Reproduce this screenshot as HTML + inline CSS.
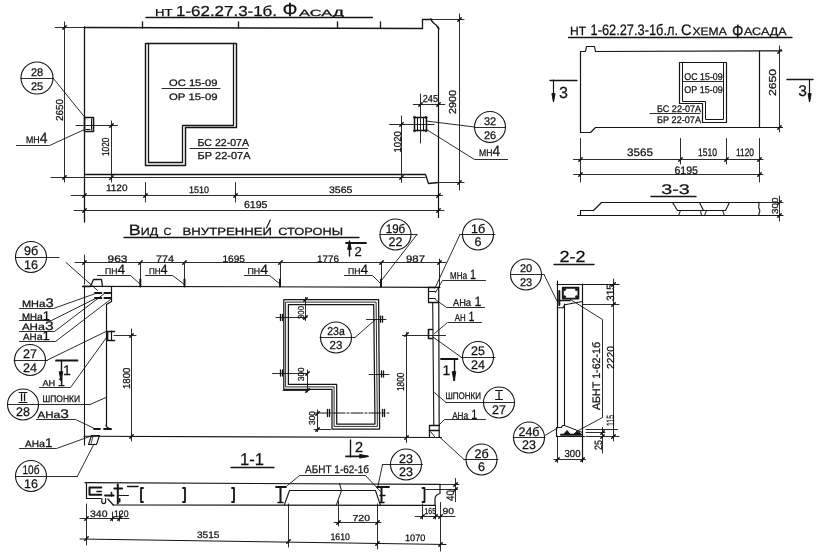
<!DOCTYPE html>
<html lang="ru"><head><meta charset="utf-8"><title>НТ 1-62.27.3-1б</title>
<style>
html,body{margin:0;padding:0;background:#fff}
svg{display:block;filter:grayscale(1)}
svg text{font-family:"Liberation Sans",sans-serif;fill:#111;stroke:#111;stroke-width:.25px;text-rendering:geometricPrecision}
svg line,svg polyline,svg polygon,svg circle,svg path{stroke:#151515;stroke-linecap:round;stroke-linejoin:round}
svg polyline,svg polygon,svg circle{fill:none}
</style></head><body>
<svg width="821" height="555" viewBox="0 0 821 555">
<rect width="821" height="555" fill="#fff" stroke="none"/>
<text x="155" y="15.5" font-size="10.14" textLength="17.5" lengthAdjust="spacingAndGlyphs">НТ</text>
<text x="176" y="15.5" font-size="14.49" textLength="101.0" lengthAdjust="spacingAndGlyphs">1-62.27.3-1б.</text>
<text x="282.5" y="16.3" font-size="18.84" textLength="15.0" lengthAdjust="spacingAndGlyphs">Ф</text>
<text x="299" y="15.5" font-size="8.99" textLength="45.0" lengthAdjust="spacingAndGlyphs">АСАД</text>
<line x1="146" y1="17.5" x2="372.5" y2="17.5" stroke-width="1.3"/>
<line x1="55" y1="27.5" x2="84.5" y2="27.5" stroke-width="0.9"/>
<polyline points="84.5,27.5 422.5,28.5 422.5,19.5 431.5,19.5" stroke-width="1.3"/>
<path d="M431 19 C432 24 436 24 436.5 25.5 L439 29" stroke-width="1.3" fill="none"/>
<line x1="431" y1="19.5" x2="464" y2="19.5" stroke-width="0.9"/>
<line x1="438.5" y1="27" x2="438.5" y2="217.5" stroke-width="1.2"/>
<line x1="84.5" y1="27" x2="84.5" y2="222" stroke-width="1.3"/>
<line x1="142.5" y1="22" x2="142.5" y2="28" stroke-width="1.3"/>
<line x1="238.5" y1="22" x2="238.5" y2="28" stroke-width="1.3"/>
<line x1="337.5" y1="22" x2="337.5" y2="28" stroke-width="1.3"/>
<line x1="380.5" y1="22" x2="380.5" y2="28" stroke-width="1.3"/>
<polyline points="84.5,174.5 425.5,174.5 428.5,183.5 438.5,182.5" stroke-width="1.3"/>
<line x1="438" y1="182.5" x2="464" y2="182.5" stroke-width="0.9"/>
<line x1="51" y1="177.5" x2="425" y2="177.5" stroke-width="0.9"/>
<line x1="64.5" y1="22" x2="64.5" y2="182" stroke-width="0.9"/>
<line x1="62.8" y1="29.2" x2="66.2" y2="25.8" stroke-width="1.5"/>
<line x1="62.8" y1="179.2" x2="66.2" y2="175.8" stroke-width="1.5"/>
<text transform="translate(62.5,121) rotate(-90)" font-size="10.14" textLength="22.0" lengthAdjust="spacingAndGlyphs">2650</text>
<polygon points="145.5,43.5 236.5,43.5 236.5,127.5 185.5,127.5 185.5,165.5 145.5,165.5" stroke-width="1.45"/>
<polyline points="148.5,43.5 148.5,162.5 182.5,162.5 182.5,125.5 233.5,125.5 233.5,43.5" stroke-width="1.3"/>
<text x="169" y="86" font-size="9.42" textLength="48.5" lengthAdjust="spacingAndGlyphs">ОС 15-09</text>
<line x1="162" y1="88.5" x2="220" y2="88.5" stroke-width="0.9"/>
<text x="169" y="99.5" font-size="9.42" textLength="48.5" lengthAdjust="spacingAndGlyphs">ОР 15-09</text>
<text x="197.5" y="146" font-size="10.14" textLength="51.5" lengthAdjust="spacingAndGlyphs">БС 22-07А</text>
<line x1="190" y1="148.5" x2="247.5" y2="148.5" stroke-width="0.9"/>
<text x="197.5" y="158.5" font-size="10.14" textLength="53.0" lengthAdjust="spacingAndGlyphs">БР 22-07А</text>
<polygon points="84.5,117.5 93.5,117.5 93.5,131.5 84.5,131.5" stroke-width="1.6"/>
<line x1="91.5" y1="119" x2="91.5" y2="130" stroke-width="1"/>
<line x1="86" y1="129.5" x2="90" y2="129.5" stroke-width="1"/>
<line x1="76" y1="125.5" x2="117.5" y2="125.5" stroke-width="0.9"/>
<line x1="111.5" y1="121" x2="111.5" y2="182" stroke-width="0.9"/>
<line x1="109.8" y1="127.2" x2="113.2" y2="123.8" stroke-width="1.5"/>
<line x1="109.8" y1="179.2" x2="113.2" y2="175.8" stroke-width="1.5"/>
<text transform="translate(109.0,156) rotate(-90)" font-size="10.14" textLength="18.5" lengthAdjust="spacingAndGlyphs">1020</text>
<circle cx="37" cy="78" r="16" stroke-width="1.1"/>
<line x1="21" y1="78.5" x2="53" y2="78.5" stroke-width="0.9"/>
<text x="37" y="75.8" font-size="11" text-anchor="middle">28</text>
<text x="37" y="89.5" font-size="11" text-anchor="middle">25</text>
<line x1="53" y1="78" x2="85" y2="117.5" stroke-width="0.9"/>
<text x="26" y="142.5" font-size="9.5" textLength="21.5" lengthAdjust="spacingAndGlyphs">МН<tspan font-size="15">4</tspan></text>
<polyline points="16.5,145.5 49.5,145.5 84.5,129.5" stroke-width="0.9"/>
<line x1="71" y1="195.5" x2="442.5" y2="195.5" stroke-width="0.9"/>
<line x1="82.8" y1="197.2" x2="86.2" y2="193.8" stroke-width="1.5"/>
<line x1="143.8" y1="197.2" x2="147.2" y2="193.8" stroke-width="1.5"/>
<line x1="233.8" y1="197.2" x2="237.2" y2="193.8" stroke-width="1.5"/>
<line x1="436.8" y1="197.2" x2="440.2" y2="193.8" stroke-width="1.5"/>
<line x1="145.5" y1="182.5" x2="145.5" y2="202" stroke-width="0.9"/>
<line x1="235.5" y1="182.5" x2="235.5" y2="202" stroke-width="0.9"/>
<line x1="74" y1="210.5" x2="444" y2="210.5" stroke-width="0.9"/>
<line x1="82.8" y1="212.2" x2="86.2" y2="208.8" stroke-width="1.5"/>
<line x1="436.8" y1="212.2" x2="440.2" y2="208.8" stroke-width="1.5"/>
<text x="106" y="191" font-size="9.42" textLength="21.5" lengthAdjust="spacingAndGlyphs">1120</text>
<text x="189" y="192.5" font-size="9.42" textLength="20.0" lengthAdjust="spacingAndGlyphs">1510</text>
<text x="329" y="192.5" font-size="9.42" textLength="23.5" lengthAdjust="spacingAndGlyphs">3565</text>
<text x="244" y="208" font-size="10.14" textLength="23.5" lengthAdjust="spacingAndGlyphs">6195</text>
<polygon points="414.5,117.5 426.5,117.5 426.5,130.5 414.5,130.5" stroke-width="1.5"/>
<line x1="417.5" y1="117.3" x2="417.5" y2="130.8" stroke-width="1.1"/>
<line x1="423.5" y1="117.3" x2="423.5" y2="130.8" stroke-width="1.1"/>
<circle cx="414.5" cy="117.3" r="1.1" style="fill:#151515" stroke-width="0.5"/>
<circle cx="426" cy="117.3" r="1.1" style="fill:#151515" stroke-width="0.5"/>
<circle cx="414.5" cy="130.8" r="1.1" style="fill:#151515" stroke-width="0.5"/>
<circle cx="426" cy="130.8" r="1.1" style="fill:#151515" stroke-width="0.5"/>
<line x1="389.5" y1="124.5" x2="434" y2="124.5" stroke-width="0.9"/>
<line x1="401.5" y1="116" x2="401.5" y2="182.5" stroke-width="0.9"/>
<line x1="399.8" y1="126.2" x2="403.2" y2="122.8" stroke-width="1.5"/>
<line x1="399.8" y1="179.2" x2="403.2" y2="175.8" stroke-width="1.5"/>
<text transform="translate(401.0,152.5) rotate(-90)" font-size="10.14" textLength="21.5" lengthAdjust="spacingAndGlyphs">1020</text>
<line x1="420.5" y1="94" x2="420.5" y2="143" stroke-width="0.9"/>
<line x1="413.3" y1="104.5" x2="444.8" y2="104.5" stroke-width="0.9"/>
<line x1="418.8" y1="106.2" x2="422.2" y2="102.8" stroke-width="1.5"/>
<line x1="436.8" y1="106.2" x2="440.2" y2="102.8" stroke-width="1.5"/>
<text x="422.8" y="102" font-size="10.14" textLength="15.2" lengthAdjust="spacingAndGlyphs">245</text>
<line x1="459.5" y1="14" x2="459.5" y2="190" stroke-width="0.9"/>
<line x1="457.8" y1="21.2" x2="461.2" y2="17.8" stroke-width="1.5"/>
<line x1="457.8" y1="184.2" x2="461.2" y2="180.8" stroke-width="1.5"/>
<text transform="translate(456.0,114) rotate(-90)" font-size="10.14" textLength="24.0" lengthAdjust="spacingAndGlyphs">2900</text>
<circle cx="490" cy="127" r="15.5" stroke-width="1.1"/>
<line x1="474.5" y1="127.5" x2="505.5" y2="127.5" stroke-width="0.9"/>
<text x="490" y="124.8" font-size="11" text-anchor="middle">32</text>
<text x="490" y="138.5" font-size="11" text-anchor="middle">26</text>
<line x1="426" y1="121" x2="474.5" y2="127" stroke-width="0.9"/>
<text x="479" y="156" font-size="9.5" textLength="21" lengthAdjust="spacingAndGlyphs">МН<tspan font-size="15">4</tspan></text>
<polyline points="426.5,129.5 474.5,159.5 507.5,159.5" stroke-width="0.9"/>
<text x="570" y="35" font-size="11.88" textLength="16.0" lengthAdjust="spacingAndGlyphs">НТ</text>
<text x="590.5" y="35" font-size="15.22" textLength="87.5" lengthAdjust="spacingAndGlyphs">1-62.27.3-1б.л.</text>
<text x="681" y="35" font-size="15.22" textLength="10.5" lengthAdjust="spacingAndGlyphs">С</text>
<text x="692.5" y="35" font-size="10.87" textLength="34.2" lengthAdjust="spacingAndGlyphs">ХЕМА</text>
<text x="732" y="36.8" font-size="17.83" textLength="11.5" lengthAdjust="spacingAndGlyphs">Ф</text>
<text x="744" y="35" font-size="10.87" textLength="42.6" lengthAdjust="spacingAndGlyphs">АСАДА</text>
<line x1="568.5" y1="37.5" x2="792" y2="37.5" stroke-width="1.3"/>
<polyline points="580.5,132.5 580.5,51.5 585.5,51.5 586.5,46.5 594.5,46.5 595.5,51.5" stroke-width="1.2"/>
<line x1="595.5" y1="51.5" x2="782" y2="50.8" stroke-width="1.2"/>
<polyline points="580.5,132.5 590.5,132.5 595.5,127.5 782.5,127.5" stroke-width="1.2"/>
<line x1="759.5" y1="51" x2="759.5" y2="127" stroke-width="1.2"/>
<line x1="779.5" y1="46" x2="779.5" y2="132" stroke-width="0.9"/>
<line x1="777.8" y1="53.2" x2="781.2" y2="49.8" stroke-width="1.5"/>
<line x1="777.8" y1="129.2" x2="781.2" y2="125.8" stroke-width="1.5"/>
<text transform="translate(775.5,96) rotate(-90)" font-size="10.14" textLength="27.0" lengthAdjust="spacingAndGlyphs">2650</text>
<polygon points="679.5,62.5 726.5,62.5 726.5,122.5 702.5,122.5 702.5,103.5 679.5,103.5" stroke-width="1.2"/>
<polyline points="682.5,62.5 682.5,101.5 705.5,101.5 705.5,119.5 723.5,119.5 723.5,62.5" stroke-width="1.0"/>
<text x="684.3" y="80" font-size="9.86" textLength="38.4" lengthAdjust="spacingAndGlyphs">ОС 15-09</text>
<line x1="682.5" y1="81.5" x2="723.5" y2="81.5" stroke-width="0.9"/>
<text x="684.3" y="92.8" font-size="9.86" textLength="38.4" lengthAdjust="spacingAndGlyphs">ОР 15-09</text>
<text x="657" y="111.8" font-size="9.57" textLength="44.0" lengthAdjust="spacingAndGlyphs">БС 22-07А</text>
<line x1="650" y1="113.5" x2="700" y2="113.5" stroke-width="0.9"/>
<text x="657" y="122.8" font-size="9.57" textLength="44.0" lengthAdjust="spacingAndGlyphs">БР 22-07А</text>
<line x1="550" y1="80.5" x2="577" y2="80.5" stroke-width="1.3"/>
<line x1="553.5" y1="80" x2="553.5" y2="101" stroke-width="1.2"/>
<path d="M552 94 L553.5 102 L555 94 Z" stroke-width="1" fill="#111"/>
<text x="563.5" y="97.5" font-size="16" text-anchor="middle">3</text>
<line x1="787" y1="79.5" x2="813" y2="79.5" stroke-width="1.3"/>
<line x1="809.5" y1="79.5" x2="809.5" y2="101" stroke-width="1.2"/>
<path d="M808.1 94 L809.6 102 L811.1 94 Z" stroke-width="1" fill="#111"/>
<text x="802.5" y="95.5" font-size="15.5" text-anchor="middle">3</text>
<line x1="580.5" y1="138.5" x2="580.5" y2="182" stroke-width="0.9"/>
<line x1="759.5" y1="138.5" x2="759.5" y2="182" stroke-width="0.9"/>
<line x1="680.5" y1="138.5" x2="680.5" y2="164" stroke-width="0.9"/>
<line x1="726.5" y1="138.5" x2="726.5" y2="164" stroke-width="0.9"/>
<line x1="573.5" y1="159.5" x2="763" y2="159.5" stroke-width="0.9"/>
<line x1="578.8" y1="161.2" x2="582.2" y2="157.8" stroke-width="1.5"/>
<line x1="678.8" y1="161.2" x2="682.2" y2="157.8" stroke-width="1.5"/>
<line x1="724.8" y1="161.2" x2="728.2" y2="157.8" stroke-width="1.5"/>
<line x1="757.8" y1="161.2" x2="761.2" y2="157.8" stroke-width="1.5"/>
<line x1="573.5" y1="174.5" x2="763" y2="174.5" stroke-width="0.9"/>
<line x1="578.8" y1="176.2" x2="582.2" y2="172.8" stroke-width="1.5"/>
<line x1="757.8" y1="176.2" x2="761.2" y2="172.8" stroke-width="1.5"/>
<text x="627" y="155.5" font-size="10.87" textLength="26.0" lengthAdjust="spacingAndGlyphs">3565</text>
<text x="698" y="155.5" font-size="10.87" textLength="19.0" lengthAdjust="spacingAndGlyphs">1510</text>
<text x="736" y="155.5" font-size="10.87" textLength="18.0" lengthAdjust="spacingAndGlyphs">1120</text>
<text x="674.5" y="173.5" font-size="10.87" textLength="23.5" lengthAdjust="spacingAndGlyphs">6195</text>
<text x="675.5" y="193.5" font-size="14" text-anchor="middle" textLength="28.5" lengthAdjust="spacingAndGlyphs">3-3</text>
<line x1="651" y1="196.5" x2="696" y2="196.5" stroke-width="1.3"/>
<line x1="577.5" y1="215.5" x2="783" y2="215.5" stroke-width="1.2"/>
<polyline points="580.5,215.5 580.5,210.5 593.5,210.5 601.5,202.5 760.5,202.5" stroke-width="1.2"/>
<line x1="760" y1="202.5" x2="783" y2="202.5" stroke-width="0.9"/>
<path d="M758.5 202.3 C760.5 205 757 207 759.5 209.5 C761 212 758 213 759 215.2" stroke-width="1.1" fill="none"/>
<polyline points="672.5,202.5 677.5,210.5 703.5,210.5" stroke-width="1.1"/>
<polyline points="699.5,202.5 703.5,210.5 725.5,210.5 729.5,202.5" stroke-width="1.1"/>
<polyline points="680.5,210.5 678.5,215.5" stroke-width="1"/>
<polyline points="700.5,210.5 701.5,215.5" stroke-width="1"/>
<polyline points="706.5,210.5 704.5,215.5" stroke-width="1"/>
<polyline points="722.5,210.5 724.5,215.5" stroke-width="1"/>
<line x1="779.5" y1="196" x2="779.5" y2="221" stroke-width="0.9"/>
<line x1="777.8" y1="204.2" x2="781.2" y2="200.8" stroke-width="1.5"/>
<line x1="777.8" y1="217.2" x2="781.2" y2="213.8" stroke-width="1.5"/>
<text transform="translate(778.0,214) rotate(-90)" font-size="8.70" textLength="16.5" lengthAdjust="spacingAndGlyphs">300</text>
<text x="128.7" y="235.3" font-size="10.4" textLength="29.5" lengthAdjust="spacingAndGlyphs"><tspan font-size="15">В</tspan>ИД</text>
<text x="163.5" y="235.3" font-size="10.43" textLength="8.0" lengthAdjust="spacingAndGlyphs">С</text>
<text x="182.5" y="235.3" font-size="10.43" textLength="89.5" lengthAdjust="spacingAndGlyphs">ВНУТРЕННЕИ</text>
<text x="278.3" y="235.3" font-size="10.43" textLength="64.7" lengthAdjust="spacingAndGlyphs">СТОРОНЫ</text>
<line x1="266.5" y1="228" x2="270.3" y2="220" stroke-width="1.2"/>
<line x1="124" y1="237.5" x2="359" y2="237.5" stroke-width="1.3"/>
<line x1="75" y1="262.5" x2="446" y2="262.5" stroke-width="0.9"/>
<line x1="82.8" y1="264.2" x2="86.2" y2="260.8" stroke-width="1.5"/>
<line x1="138.8" y1="264.2" x2="142.2" y2="260.8" stroke-width="1.5"/>
<line x1="182.8" y1="264.2" x2="186.2" y2="260.8" stroke-width="1.5"/>
<line x1="278.8" y1="264.2" x2="282.2" y2="260.8" stroke-width="1.5"/>
<line x1="379.8" y1="264.2" x2="383.2" y2="260.8" stroke-width="1.5"/>
<line x1="437.8" y1="264.2" x2="441.2" y2="260.8" stroke-width="1.5"/>
<line x1="84.5" y1="255" x2="84.5" y2="284" stroke-width="0.9"/>
<line x1="439.5" y1="259" x2="439.5" y2="287.5" stroke-width="0.9"/>
<text x="107.5" y="261.5" font-size="9.42" textLength="20.0" lengthAdjust="spacingAndGlyphs">963</text>
<text x="156" y="261.5" font-size="9.42" textLength="18.0" lengthAdjust="spacingAndGlyphs">774</text>
<text x="222.5" y="261.5" font-size="9.42" textLength="22.5" lengthAdjust="spacingAndGlyphs">1695</text>
<text x="317" y="261.5" font-size="9.42" textLength="22.0" lengthAdjust="spacingAndGlyphs">1776</text>
<text x="406" y="261.5" font-size="9.42" textLength="19.0" lengthAdjust="spacingAndGlyphs">987</text>
<text x="105" y="274" font-size="8.5" textLength="20" lengthAdjust="spacingAndGlyphs">ПН<tspan font-size="13.5">4</tspan></text>
<polyline points="97.5,275.5 130.5,275.5 140.5,284.5" stroke-width="0.9"/>
<line x1="140.5" y1="262.8" x2="140.5" y2="280" stroke-width="0.9"/>
<line x1="140.3" y1="279.5" x2="140.3" y2="286.5" stroke-width="2"/>
<text x="149" y="274" font-size="8.5" textLength="18.5" lengthAdjust="spacingAndGlyphs">ПН<tspan font-size="13.5">4</tspan></text>
<polyline points="145.5,275.5 172.5,275.5 184.5,284.5" stroke-width="0.9"/>
<line x1="184.5" y1="262.8" x2="184.5" y2="280" stroke-width="0.9"/>
<line x1="184.5" y1="279.5" x2="184.5" y2="286.5" stroke-width="2"/>
<text x="247.5" y="274" font-size="8.5" textLength="20.5" lengthAdjust="spacingAndGlyphs">ПН<tspan font-size="13.5">4</tspan></text>
<polyline points="244.5,275.5 269.5,275.5 280.5,284.5" stroke-width="0.9"/>
<line x1="280.5" y1="262.8" x2="280.5" y2="280" stroke-width="0.9"/>
<line x1="280" y1="279.5" x2="280" y2="286.5" stroke-width="2"/>
<text x="348" y="274" font-size="8.5" textLength="20" lengthAdjust="spacingAndGlyphs">ПН<tspan font-size="13.5">4</tspan></text>
<polyline points="344.5,275.5 372.5,275.5 381.5,284.5" stroke-width="0.9"/>
<line x1="381.5" y1="262.8" x2="381.5" y2="280" stroke-width="0.9"/>
<line x1="381" y1="279.5" x2="381" y2="286.5" stroke-width="2"/>
<line x1="82.5" y1="286.3" x2="440" y2="287.3" stroke-width="1.15"/>
<line x1="84.5" y1="286" x2="84.5" y2="445" stroke-width="1.1"/>
<line x1="84" y1="436.3" x2="441.5" y2="437.5" stroke-width="1.15"/>
<polyline points="82.5,286.5 90.5,286.5 93.5,279.5 101.5,279.5 102.5,286.5" stroke-width="1.3"/>
<polyline points="111.5,286.5 111.5,301.5 106.5,304.5 106.5,425.5" stroke-width="1.2"/>
<path d="M106 425 C106 428 109 428 111 429.5" stroke-width="1.2" fill="none"/>
<line x1="95" y1="293" x2="101.4" y2="293" stroke-width="1.8"/>
<line x1="104.4" y1="293" x2="110.4" y2="293" stroke-width="1.8"/>
<line x1="95" y1="298" x2="101.4" y2="298" stroke-width="1.8"/>
<line x1="104.4" y1="298" x2="110.4" y2="298" stroke-width="1.8"/>
<text x="21.9" y="306.8" font-size="9.3" textLength="31.700000000000003" lengthAdjust="spacingAndGlyphs">МН<tspan font-size="10">а</tspan><tspan font-size="12.5">3</tspan></text>
<polyline points="19.5,308.5 53.5,308.5 95.5,293.5" stroke-width="0.9"/>
<text x="21.9" y="319.5" font-size="9.3" textLength="28.1" lengthAdjust="spacingAndGlyphs">МН<tspan font-size="10">а</tspan><tspan font-size="12.5">1</tspan></text>
<polyline points="19.5,320.5 51.5,320.5 95.5,298.5" stroke-width="0.9"/>
<text x="21.9" y="329.8" font-size="9.3" textLength="31.700000000000003" lengthAdjust="spacingAndGlyphs">АН<tspan font-size="10">а</tspan><tspan font-size="12.5">3</tspan></text>
<polyline points="19.5,331.5 54.5,331.5 104.5,293.5" stroke-width="0.9"/>
<text x="23" y="339.8" font-size="9.3" textLength="27" lengthAdjust="spacingAndGlyphs">АН<tspan font-size="10">а</tspan><tspan font-size="12.5">1</tspan></text>
<polyline points="19.5,341.5 55.5,341.5 110.5,299.5" stroke-width="0.9"/>
<circle cx="31" cy="257" r="15.5" stroke-width="1.1"/>
<line x1="16" y1="257.5" x2="59" y2="257.5" stroke-width="0.9"/>
<text x="31" y="255.2" font-size="12.5" text-anchor="middle">9б</text>
<text x="31" y="268.5" font-size="12.5" text-anchor="middle">16</text>
<line x1="66" y1="262.5" x2="97.6" y2="290.5" stroke-width="0.9"/>
<polyline points="114.5,331.5 107.5,331.5 107.5,340.5 114.5,340.5" stroke-width="1.6"/>
<line x1="111.5" y1="331" x2="111.5" y2="340" stroke-width="1.2"/>
<line x1="114" y1="335.5" x2="136" y2="335.5" stroke-width="0.9"/>
<line x1="131.5" y1="329" x2="131.5" y2="441" stroke-width="0.9"/>
<line x1="129.8" y1="337.2" x2="133.2" y2="333.8" stroke-width="1.5"/>
<line x1="129.8" y1="438.2" x2="133.2" y2="434.8" stroke-width="1.5"/>
<text transform="translate(129.5,389) rotate(-90)" font-size="10.14" textLength="21.5" lengthAdjust="spacingAndGlyphs">1800</text>
<circle cx="30" cy="360" r="15.5" stroke-width="1.1"/>
<line x1="14" y1="360.5" x2="47.5" y2="360.5" stroke-width="0.9"/>
<text x="30" y="358.2" font-size="12.5" text-anchor="middle">27</text>
<text x="30" y="371.5" font-size="12.5" text-anchor="middle">24</text>
<line x1="47.5" y1="360" x2="106" y2="331.5" stroke-width="0.9"/>
<line x1="56" y1="360.5" x2="77.5" y2="360.5" stroke-width="1.8"/>
<line x1="61.5" y1="360.5" x2="61.5" y2="380" stroke-width="1.4"/>
<path d="M59.3 372 L61 381 L62.7 372 Z" stroke-width="1" fill="#111"/>
<text x="67" y="375" font-size="14" text-anchor="middle">1</text>
<text x="42.5" y="385.5" font-size="8.5" textLength="22.5" lengthAdjust="spacingAndGlyphs">АН <tspan font-size="12">1</tspan></text>
<polyline points="39.5,387.5 70.5,387.5 106.5,337.5" stroke-width="0.9"/>
<circle cx="23" cy="404.5" r="15.5" stroke-width="1.1"/>
<line x1="7.5" y1="404.5" x2="90" y2="404.5" stroke-width="0.9"/>
<text x="23" y="402.7" font-size="12.5" text-anchor="middle"></text>
<text x="23" y="416.0" font-size="12.5" text-anchor="middle">28</text>
<text x="23" y="401" font-size="11" text-anchor="middle">II</text>
<line x1="19" y1="392.5" x2="27" y2="392.5" stroke-width="1"/>
<line x1="19" y1="402.5" x2="27" y2="402.5" stroke-width="1"/>
<line x1="90" y1="404.5" x2="106" y2="397.5" stroke-width="0.9"/>
<text x="42.5" y="402" font-size="9.64" textLength="37.5" lengthAdjust="spacingAndGlyphs">ШПОНКИ</text>
<text x="37.5" y="418" font-size="9.3" textLength="31.5" lengthAdjust="spacingAndGlyphs">АН<tspan font-size="10">а</tspan><tspan font-size="12.5">3</tspan></text>
<polyline points="36.5,419.5 75.5,419.5 94.5,428.5" stroke-width="0.9"/>
<text x="25" y="447" font-size="9.3" textLength="27.5" lengthAdjust="spacingAndGlyphs">АН<tspan font-size="10">а</tspan><tspan font-size="12.5">1</tspan></text>
<polyline points="19.5,448.5 56.5,448.5 92.5,435.5" stroke-width="0.9"/>
<line x1="94" y1="429" x2="100" y2="429" stroke-width="1.8"/>
<line x1="104" y1="429" x2="111" y2="429" stroke-width="1.8"/>
<polygon points="91.5,435.5 99.5,435.5 96.5,444.5 88.5,444.5" stroke-width="1.1"/>
<line x1="93" y1="436" x2="91" y2="444" stroke-width="0.8"/>
<line x1="94" y1="444" x2="77.5" y2="476" stroke-width="0.9"/>
<circle cx="31" cy="476" r="15.5" stroke-width="1.1"/>
<line x1="16" y1="476.5" x2="77.5" y2="476.5" stroke-width="0.9"/>
<text x="31" y="474.2" font-size="12.5" text-anchor="middle" textLength="17" lengthAdjust="spacingAndGlyphs">10б</text>
<text x="31" y="487.5" font-size="12.5" text-anchor="middle">16</text>
<polygon points="283.8,299.6 378.6,299.6 379.6,429 332,429 332,389.3 283.8,389.3" stroke-width="1.25"/>
<polygon points="286,302.1 376.1,302.1 377.4,426.4 334.1,426.4 334.1,386.9 286,386.9" stroke-width="0.9"/>
<polygon points="288.4,304.6 373.7,304.6 375,424 336.7,424 336.7,384.4 288.4,384.4" stroke-width="1.25"/>
<line x1="276" y1="317.5" x2="287" y2="317.5" stroke-width="0.9"/>
<line x1="280.5" y1="314.5" x2="280.5" y2="320.5" stroke-width="1.3"/>
<line x1="282.5" y1="314.5" x2="282.5" y2="320.5" stroke-width="1.3"/>
<line x1="366.5" y1="319.5" x2="386" y2="319.5" stroke-width="0.9"/>
<line x1="380.5" y1="316.2" x2="380.5" y2="322.2" stroke-width="1.3"/>
<line x1="382.5" y1="316.2" x2="382.5" y2="322.2" stroke-width="1.3"/>
<line x1="272.5" y1="373.5" x2="307" y2="373.5" stroke-width="0.9"/>
<line x1="280.5" y1="370" x2="280.5" y2="376" stroke-width="1.3"/>
<line x1="282.5" y1="370" x2="282.5" y2="376" stroke-width="1.3"/>
<line x1="369" y1="374.5" x2="389" y2="374.5" stroke-width="0.9"/>
<line x1="381.5" y1="371" x2="381.5" y2="377" stroke-width="1.3"/>
<line x1="383.5" y1="371" x2="383.5" y2="377" stroke-width="1.3"/>
<line x1="315" y1="413" x2="389" y2="413" stroke-width="1" stroke-dasharray="12 2 2 2"/>
<line x1="327.5" y1="409.5" x2="327.5" y2="416.5" stroke-width="1.3"/>
<line x1="329.5" y1="409.5" x2="329.5" y2="416.5" stroke-width="1.3"/>
<line x1="382.5" y1="409.5" x2="382.5" y2="416.5" stroke-width="1.3"/>
<line x1="384.5" y1="409.5" x2="384.5" y2="416.5" stroke-width="1.3"/>
<line x1="305.5" y1="297.5" x2="305.5" y2="320.5" stroke-width="0.9"/>
<line x1="303.8" y1="301.2" x2="307.2" y2="297.8" stroke-width="1.5"/>
<line x1="303.8" y1="319.2" x2="307.2" y2="315.8" stroke-width="1.5"/>
<line x1="287" y1="317.5" x2="307" y2="317.5" stroke-width="0.9"/>
<text transform="translate(303.5,319) rotate(-90)" font-size="8.70" textLength="13.0" lengthAdjust="spacingAndGlyphs">300</text>
<line x1="307.5" y1="370" x2="307.5" y2="392" stroke-width="0.9"/>
<line x1="305.8" y1="375.2" x2="309.2" y2="371.8" stroke-width="1.5"/>
<line x1="305.8" y1="392.2" x2="309.2" y2="388.8" stroke-width="1.5"/>
<line x1="283" y1="390.5" x2="309" y2="390.5" stroke-width="0.9"/>
<text transform="translate(304.0,381) rotate(-90)" font-size="8.70" textLength="13.5" lengthAdjust="spacingAndGlyphs">300</text>
<line x1="317.5" y1="410" x2="317.5" y2="431.5" stroke-width="0.9"/>
<line x1="315.8" y1="415.2" x2="319.2" y2="411.8" stroke-width="1.5"/>
<line x1="315.8" y1="431.2" x2="319.2" y2="427.8" stroke-width="1.5"/>
<line x1="314" y1="429.5" x2="330.5" y2="429.5" stroke-width="0.9"/>
<text transform="translate(315.0,425) rotate(-90)" font-size="8.70" textLength="14.0" lengthAdjust="spacingAndGlyphs">300</text>
<circle cx="336" cy="337.5" r="15.5" stroke-width="1.1"/>
<line x1="320" y1="337.5" x2="355" y2="337.5" stroke-width="0.9"/>
<text x="336" y="335.3" font-size="11.5" text-anchor="middle" textLength="17.5" lengthAdjust="spacingAndGlyphs">23а</text>
<text x="336" y="349.0" font-size="11.5" text-anchor="middle">23</text>
<line x1="355" y1="337.5" x2="375" y2="320" stroke-width="0.9"/>
<line x1="346" y1="243" x2="366" y2="243" stroke-width="1.8"/>
<line x1="349.5" y1="241" x2="349.5" y2="256" stroke-width="1.4"/>
<path d="M347.8 249 L349.5 241 L351.2 249 Z" stroke-width="1" fill="#111"/>
<text x="358" y="255.5" font-size="13" text-anchor="middle">2</text>
<line x1="350.5" y1="440" x2="350.5" y2="457" stroke-width="1.4"/>
<line x1="346" y1="456.3" x2="367.5" y2="456.3" stroke-width="1.8"/>
<path d="M360 454.5 L368.5 456.3 L360 458 Z" stroke-width="1" fill="#111"/>
<text x="359" y="452" font-size="14.5" text-anchor="middle">2</text>
<line x1="406.5" y1="332.5" x2="406.5" y2="442.5" stroke-width="0.9"/>
<line x1="404.8" y1="336.2" x2="408.2" y2="332.8" stroke-width="1.5"/>
<line x1="404.8" y1="439.2" x2="408.2" y2="435.8" stroke-width="1.5"/>
<line x1="402.5" y1="335.5" x2="445.5" y2="335.5" stroke-width="0.9"/>
<text transform="translate(403.5,391) rotate(-90)" font-size="10.14" textLength="18.5" lengthAdjust="spacingAndGlyphs">1800</text>
<line x1="438.7" y1="287" x2="439.2" y2="437.3" stroke-width="1.2"/>
<line x1="432.7" y1="303" x2="433.8" y2="425" stroke-width="1.1"/>
<polyline points="435.5,287.5 428.5,287.5 428.5,302.5 438.5,302.5" stroke-width="1.3"/>
<line x1="428.6" y1="291.5" x2="435.2" y2="291.5" stroke-width="1.2"/>
<line x1="428.6" y1="298.5" x2="435.2" y2="298.5" stroke-width="1.2"/>
<polyline points="432.5,329.5 428.5,329.5 428.5,338.5 432.5,338.5" stroke-width="1.6"/>
<polyline points="439.5,425.5 429.5,425.5 429.5,436.5" stroke-width="1.3"/>
<line x1="429.5" y1="430.5" x2="439" y2="430.5" stroke-width="1.6"/>
<line x1="431" y1="432" x2="434.5" y2="436.5" stroke-width="0.9"/>
<circle cx="395.5" cy="234.5" r="15.5" stroke-width="1.1"/>
<line x1="380" y1="234.5" x2="417" y2="234.5" stroke-width="0.9"/>
<text x="395.5" y="232.7" font-size="12.5" text-anchor="middle" textLength="19.5" lengthAdjust="spacingAndGlyphs">19б</text>
<text x="395.5" y="246.0" font-size="12.5" text-anchor="middle">22</text>
<line x1="417" y1="234.5" x2="381" y2="281" stroke-width="0.9"/>
<circle cx="478" cy="234.5" r="15.5" stroke-width="1.1"/>
<line x1="460" y1="234.5" x2="495" y2="234.5" stroke-width="0.9"/>
<text x="478" y="232.7" font-size="12.5" text-anchor="middle">1б</text>
<text x="478" y="246.0" font-size="12.5" text-anchor="middle">6</text>
<line x1="460" y1="234.5" x2="435" y2="288" stroke-width="0.9"/>
<text x="450" y="279" font-size="10" textLength="26" lengthAdjust="spacingAndGlyphs">МН<tspan font-size="10.5">а</tspan><tspan font-size="13.5"> 1</tspan></text>
<polyline points="435.5,292.5 442.5,280.5 485.5,280.5" stroke-width="0.9"/>
<text x="453" y="306.3" font-size="10" textLength="28.5" lengthAdjust="spacingAndGlyphs">АН<tspan font-size="10.5">а</tspan><tspan font-size="13.5"> 1</tspan></text>
<polyline points="435.5,299.5 446.5,307.5 484.5,307.5" stroke-width="0.9"/>
<text x="454.7" y="321.2" font-size="10" textLength="19.80000000000001" lengthAdjust="spacingAndGlyphs">АН<tspan font-size="10.5"></tspan><tspan font-size="13.5"> 1</tspan></text>
<polyline points="434.5,333.5 447.5,322.5 481.5,322.5" stroke-width="0.9"/>
<circle cx="478" cy="357" r="15.5" stroke-width="1.1"/>
<line x1="461" y1="357.5" x2="495" y2="357.5" stroke-width="0.9"/>
<text x="478" y="355.2" font-size="12.5" text-anchor="middle">25</text>
<text x="478" y="368.5" font-size="12.5" text-anchor="middle">24</text>
<line x1="461" y1="357" x2="433" y2="337" stroke-width="0.9"/>
<line x1="441" y1="359" x2="457.5" y2="359" stroke-width="1.8"/>
<line x1="454.5" y1="359" x2="454.5" y2="380" stroke-width="1.4"/>
<path d="M452.3 372 L454 381 L455.7 372 Z" stroke-width="1" fill="#111"/>
<text x="446.5" y="374.5" font-size="14" text-anchor="middle">1</text>
<text x="445.5" y="399" font-size="9.64" textLength="35.5" lengthAdjust="spacingAndGlyphs">ШПОНКИ</text>
<circle cx="499" cy="402.5" r="15.5" stroke-width="1.1"/>
<line x1="446" y1="402.5" x2="514.5" y2="402.5" stroke-width="0.9"/>
<text x="499" y="400.7" font-size="12.5" text-anchor="middle"></text>
<text x="499" y="414.0" font-size="12.5" text-anchor="middle">27</text>
<text x="499" y="399" font-size="11" text-anchor="middle">I</text>
<line x1="495.5" y1="390.5" x2="502.5" y2="390.5" stroke-width="1"/>
<line x1="495.5" y1="399.5" x2="502.5" y2="399.5" stroke-width="1"/>
<line x1="446" y1="402.5" x2="434.5" y2="392.6" stroke-width="0.9"/>
<text x="452.2" y="418.8" font-size="10" textLength="25.19999999999999" lengthAdjust="spacingAndGlyphs">АН<tspan font-size="10.5">а</tspan><tspan font-size="13.5"> 1</tspan></text>
<polyline points="439.5,424.5 444.5,419.5 485.5,419.5" stroke-width="0.9"/>
<circle cx="481.5" cy="459.5" r="15.5" stroke-width="1.1"/>
<line x1="464" y1="459.5" x2="498" y2="459.5" stroke-width="0.9"/>
<text x="481.5" y="457.7" font-size="12.5" text-anchor="middle">2б</text>
<text x="481.5" y="471.0" font-size="12.5" text-anchor="middle">6</text>
<line x1="464" y1="459.5" x2="439" y2="436.5" stroke-width="0.9"/>
<circle cx="406" cy="464.5" r="15.5" stroke-width="1.1"/>
<line x1="382.5" y1="464.5" x2="422.5" y2="464.5" stroke-width="0.9"/>
<text x="406" y="462.7" font-size="12.5" text-anchor="middle">23</text>
<text x="406" y="476.0" font-size="12.5" text-anchor="middle">23</text>
<line x1="382.5" y1="464.5" x2="377.5" y2="488.5" stroke-width="0.9"/>
<text x="252" y="465" font-size="17" text-anchor="middle" textLength="24" lengthAdjust="spacingAndGlyphs">1-1</text>
<line x1="231" y1="467.5" x2="274" y2="467.5" stroke-width="1.4"/>
<text x="305" y="473" font-size="10.87" textLength="64.0" lengthAdjust="spacingAndGlyphs">АБНТ 1-62-1б</text>
<polyline points="287.5,485.5 299.5,475.5 365.5,475.5 380.5,491.5" stroke-width="0.9"/>
<line x1="85" y1="482.7" x2="440.3" y2="484.4" stroke-width="1.2"/>
<line x1="440" y1="484.5" x2="459" y2="484.5" stroke-width="0.9"/>
<line x1="113.3" y1="505" x2="435" y2="505.3" stroke-width="1.2"/>
<polyline points="86.5,483.5 86.5,498.5 100.5,498.5" stroke-width="1.2"/>
<path d="M101.8 498.5 L101.8 501.5 C101.8 504.3 105.6 504.3 105.6 501.5 L105.6 498.5 M107.9 499 L113.3 505" stroke-width="1.2" fill="none"/>
<polyline points="101.3,487.5 89.5,487.5 89.5,494.8 101.3,494.8" stroke-width="2"/>
<line x1="97" y1="491.5" x2="101.3" y2="491.5" stroke-width="1.5"/>
<line x1="114.5" y1="488.5" x2="122" y2="488.5" stroke-width="2.2"/>
<line x1="117.8" y1="484.5" x2="117.8" y2="503.5" stroke-width="2"/>
<line x1="105" y1="495.5" x2="113.7" y2="495.5" stroke-width="1.8"/>
<line x1="119" y1="495.5" x2="128.4" y2="495.5" stroke-width="1.2"/>
<line x1="111.5" y1="492.5" x2="111.5" y2="496" stroke-width="1.6"/>
<line x1="119.5" y1="499" x2="119.5" y2="501.5" stroke-width="2"/>
<line x1="127.6" y1="486.5" x2="138" y2="486.5" stroke-width="1.5"/>
<polyline points="143,488 141,488 141,502 143,502" stroke-width="1.8"/>
<polyline points="183,488 185,488 185,502 183,502" stroke-width="1.8"/>
<polyline points="232,488 234,488 234,502 232,502" stroke-width="1.8"/>
<polyline points="284.5,504.5 289.5,490.5 375.5,490.5 380.5,505.5" stroke-width="1.1"/>
<polyline points="339.5,483.5 341.5,490.5 336.5,504.5" stroke-width="1"/>
<polyline points="276,487 286,487" stroke-width="1.8"/>
<line x1="280.5" y1="487" x2="280.5" y2="502" stroke-width="2"/>
<line x1="278" y1="502.5" x2="283" y2="502.5" stroke-width="1.5"/>
<polyline points="377,487 389,487" stroke-width="1.8"/>
<line x1="381.5" y1="487" x2="381.5" y2="502" stroke-width="2"/>
<line x1="380" y1="495.5" x2="385" y2="495.5" stroke-width="1.3"/>
<line x1="380" y1="502.5" x2="384" y2="502.5" stroke-width="1.5"/>
<polyline points="422.5,488 424.5,488 424.5,502 422.5,502" stroke-width="1.8"/>
<path d="M440 484.5 L440 493.5 C436.5 494.5 435 496 435 499 L435 505" stroke-width="1.2" fill="none"/>
<line x1="426" y1="489.5" x2="457.5" y2="489.5" stroke-width="0.9"/>
<line x1="455.5" y1="478.5" x2="455.5" y2="501.7" stroke-width="0.9"/>
<line x1="453.8" y1="486.2" x2="457.2" y2="482.8" stroke-width="1.5"/>
<line x1="453.8" y1="491.2" x2="457.2" y2="487.8" stroke-width="1.5"/>
<text transform="translate(454.25,501) rotate(-90)" font-size="10.87" textLength="11.0" lengthAdjust="spacingAndGlyphs">40</text>
<line x1="80" y1="518.5" x2="129" y2="518.5" stroke-width="0.9"/>
<line x1="84.8" y1="520.2" x2="88.2" y2="516.8" stroke-width="1.5"/>
<line x1="110.8" y1="520.2" x2="114.2" y2="516.8" stroke-width="1.5"/>
<line x1="117.8" y1="520.2" x2="121.2" y2="516.8" stroke-width="1.5"/>
<line x1="112.5" y1="512" x2="112.5" y2="521" stroke-width="0.9"/>
<line x1="119.5" y1="512" x2="119.5" y2="521" stroke-width="0.9"/>
<text x="90" y="516.5" font-size="9.42" textLength="17.5" lengthAdjust="spacingAndGlyphs">340</text>
<text x="114" y="516.5" font-size="9.42" textLength="14.5" lengthAdjust="spacingAndGlyphs">120</text>
<line x1="86.5" y1="504" x2="86.5" y2="545" stroke-width="0.9"/>
<line x1="288.5" y1="504" x2="288.5" y2="547" stroke-width="0.9"/>
<line x1="377.5" y1="504" x2="377.5" y2="549" stroke-width="0.9"/>
<line x1="440.5" y1="502.5" x2="440.5" y2="551" stroke-width="0.9"/>
<line x1="80" y1="539" x2="446" y2="544.5" stroke-width="1.0"/>
<line x1="84.8" y1="540.2" x2="88.2" y2="536.8" stroke-width="1.5"/>
<line x1="286.8" y1="543.2" x2="290.2" y2="539.8" stroke-width="1.5"/>
<line x1="375.8" y1="545.2" x2="379.2" y2="541.8" stroke-width="1.5"/>
<line x1="438.8" y1="546.2" x2="442.2" y2="542.8" stroke-width="1.5"/>
<text x="197" y="537.5" font-size="9.42" textLength="22.5" lengthAdjust="spacingAndGlyphs">3515</text>
<text x="330.5" y="539.5" font-size="9.42" textLength="19.5" lengthAdjust="spacingAndGlyphs">1610</text>
<text x="405" y="541" font-size="9.42" textLength="20.5" lengthAdjust="spacingAndGlyphs">1070</text>
<line x1="338.5" y1="501" x2="338.5" y2="526" stroke-width="0.9"/>
<line x1="334" y1="522.5" x2="381" y2="522.5" stroke-width="0.9"/>
<line x1="336.8" y1="524.2" x2="340.2" y2="520.8" stroke-width="1.5"/>
<line x1="375.8" y1="524.2" x2="379.2" y2="520.8" stroke-width="1.5"/>
<text x="352.5" y="520.5" font-size="8.70" textLength="17.5" lengthAdjust="spacingAndGlyphs">720</text>
<line x1="415" y1="516.5" x2="455" y2="516.5" stroke-width="0.9"/>
<line x1="420.8" y1="518.2" x2="424.2" y2="514.8" stroke-width="1.5"/>
<line x1="433.8" y1="518.2" x2="437.2" y2="514.8" stroke-width="1.5"/>
<line x1="438.8" y1="518.2" x2="442.2" y2="514.8" stroke-width="1.5"/>
<line x1="422.5" y1="504" x2="422.5" y2="519" stroke-width="0.9"/>
<line x1="435.5" y1="505" x2="435.5" y2="519" stroke-width="0.9"/>
<text x="424.5" y="514" font-size="8.70" textLength="11.5" lengthAdjust="spacingAndGlyphs">165</text>
<text x="442.5" y="514" font-size="8.70" textLength="11.5" lengthAdjust="spacingAndGlyphs">90</text>
<text x="572.5" y="262" font-size="16" text-anchor="middle" textLength="26" lengthAdjust="spacingAndGlyphs">2-2</text>
<line x1="554" y1="264.5" x2="594" y2="264.5" stroke-width="1.4"/>
<line x1="557.5" y1="281" x2="557.5" y2="427.5" stroke-width="1.2"/>
<line x1="557" y1="284.5" x2="619" y2="284.5" stroke-width="1.1"/>
<line x1="582.5" y1="284" x2="582.5" y2="462" stroke-width="1.2"/>
<polygon points="562.8,287.8 578.4,287.8 578.4,298.6 562.8,298.6" stroke-width="1.9"/>
<circle cx="564.5" cy="289.5" r="1.2" style="fill:#151515" stroke-width="0.5"/>
<circle cx="576.5" cy="289.5" r="1.2" style="fill:#151515" stroke-width="0.5"/>
<circle cx="564.5" cy="296.8" r="1.2" style="fill:#151515" stroke-width="0.5"/>
<circle cx="576.5" cy="296.8" r="1.2" style="fill:#151515" stroke-width="0.5"/>
<line x1="559.3" y1="291" x2="559.3" y2="305" stroke-width="2"/>
<line x1="559" y1="300.5" x2="570" y2="300.5" stroke-width="1.5"/>
<line x1="557.3" y1="307.8" x2="563" y2="307.8" stroke-width="1.1"/>
<line x1="563" y1="307.8" x2="564.7" y2="304.7" stroke-width="1.1"/>
<line x1="564.7" y1="304.7" x2="582.5" y2="301.5" stroke-width="1.1"/>
<line x1="564.5" y1="304" x2="564.5" y2="425" stroke-width="1.1"/>
<line x1="582.5" y1="304.5" x2="619" y2="304.5" stroke-width="0.9"/>
<line x1="613.5" y1="279" x2="613.5" y2="441" stroke-width="0.9"/>
<line x1="611.8" y1="286.2" x2="615.2" y2="282.8" stroke-width="1.5"/>
<line x1="611.8" y1="306.2" x2="615.2" y2="302.8" stroke-width="1.5"/>
<line x1="611.8" y1="438.2" x2="615.2" y2="434.8" stroke-width="1.5"/>
<text transform="translate(613.65,301) rotate(-90)" font-size="10.58" textLength="17.0" lengthAdjust="spacingAndGlyphs">315</text>
<text transform="translate(613.5,369) rotate(-90)" font-size="10.14" textLength="23.0" lengthAdjust="spacingAndGlyphs">2220</text>
<text transform="translate(599.75,410) rotate(-90)" font-size="10.87" textLength="68.0" lengthAdjust="spacingAndGlyphs">АБНТ 1-62-1б</text>
<polyline points="570.5,299.5 602.5,319.5 602.5,417.5 576.5,431.5" stroke-width="0.9"/>
<text transform="translate(613.65,426) rotate(-90)" font-size="10.58" textLength="11.0" lengthAdjust="spacingAndGlyphs">115</text>
<text transform="translate(601.65,450) rotate(-90)" font-size="10.58" textLength="10.0" lengthAdjust="spacingAndGlyphs">25</text>
<line x1="602.5" y1="427.5" x2="602.5" y2="453" stroke-width="0.9"/>
<line x1="600.8" y1="434.2" x2="604.2" y2="430.8" stroke-width="1.5"/>
<line x1="600.8" y1="438.2" x2="604.2" y2="434.8" stroke-width="1.5"/>
<polyline points="557.5,427.5 561.5,427.5 562.5,425.5 564.5,425.5" stroke-width="1.1"/>
<polyline points="564.5,425.5 582.5,432.5" stroke-width="1"/>
<polyline points="556.5,427.5 556.5,436.5 584.5,436.5" stroke-width="1.2"/>
<line x1="561" y1="434.8" x2="581" y2="434.8" stroke-width="2"/>
<path d="M564 434 L567 430.5 L570 434 Z" stroke-width="1" fill="#111"/>
<path d="M574 434 L577.5 431 L581 434 Z" stroke-width="1" fill="#111"/>
<line x1="586" y1="429.5" x2="617.5" y2="429.5" stroke-width="0.9"/>
<line x1="586" y1="432.5" x2="605" y2="432.5" stroke-width="0.9"/>
<line x1="586" y1="436.5" x2="619" y2="436.5" stroke-width="0.9"/>
<line x1="557.5" y1="436" x2="557.5" y2="462.5" stroke-width="0.9"/>
<line x1="554" y1="459.5" x2="585.5" y2="459.5" stroke-width="0.9"/>
<line x1="555.8" y1="461.2" x2="559.2" y2="457.8" stroke-width="1.5"/>
<line x1="580.8" y1="461.2" x2="584.2" y2="457.8" stroke-width="1.5"/>
<text x="564.5" y="457" font-size="10.14" textLength="16.0" lengthAdjust="spacingAndGlyphs">300</text>
<circle cx="526" cy="274.5" r="15.5" stroke-width="1.1"/>
<line x1="511" y1="274.5" x2="544" y2="274.5" stroke-width="0.9"/>
<text x="526" y="272.3" font-size="11" text-anchor="middle">20</text>
<text x="526" y="286.0" font-size="11" text-anchor="middle">23</text>
<line x1="544" y1="274.5" x2="557" y2="301" stroke-width="0.9"/>
<circle cx="529" cy="437.5" r="15.5" stroke-width="1.1"/>
<line x1="513" y1="437.5" x2="545" y2="437.5" stroke-width="0.9"/>
<text x="529" y="435.7" font-size="12.5" text-anchor="middle" textLength="21" lengthAdjust="spacingAndGlyphs">24б</text>
<text x="529" y="449.0" font-size="12.5" text-anchor="middle">23</text>
<line x1="545" y1="435.5" x2="557.5" y2="428" stroke-width="0.9"/>
</svg>
</body></html>
